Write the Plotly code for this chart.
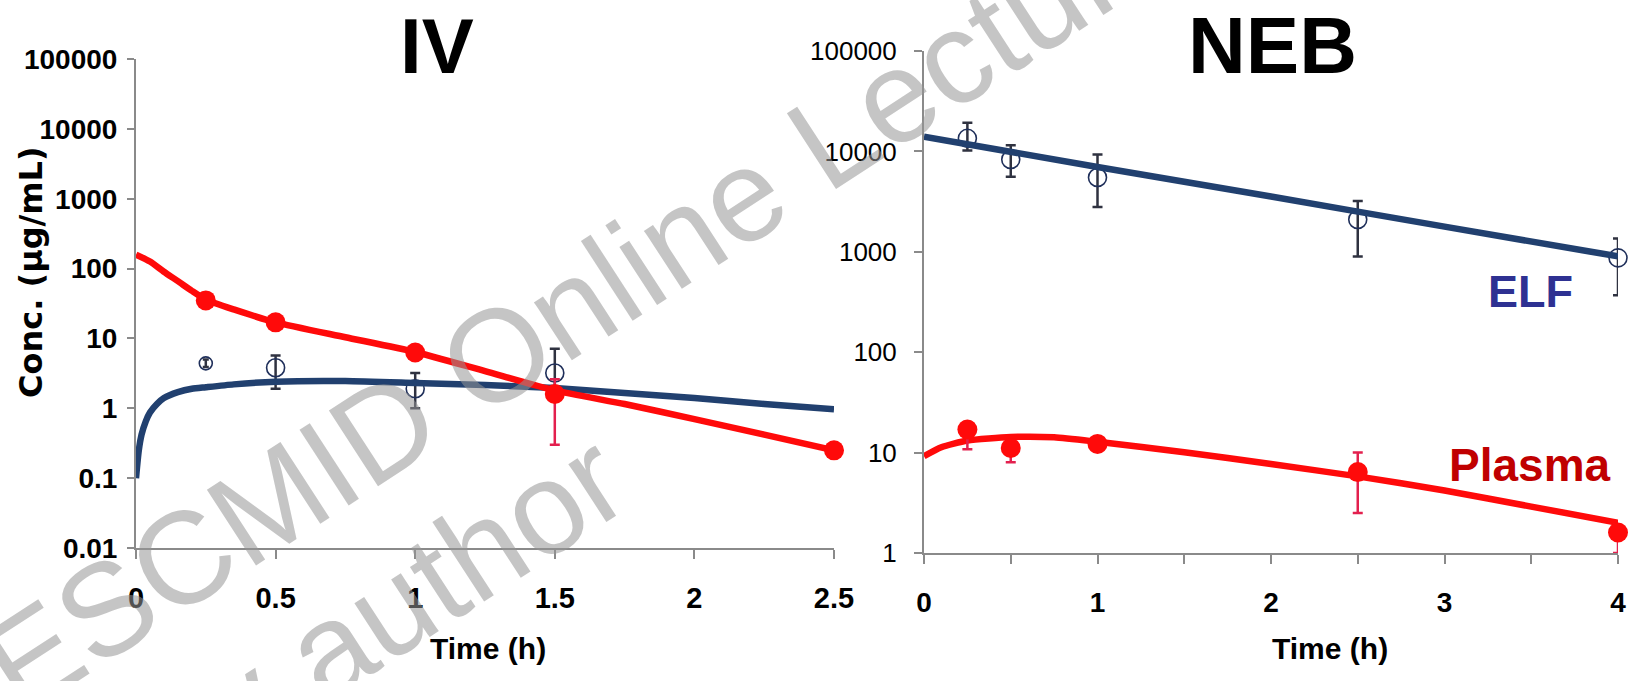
import plotly.graph_objects as go

# ---------------- DATA ----------------
# IV panel
iv_t_obs = [0.25, 0.5, 1.0, 1.5, 2.5]
iv_plasma_obs = [35, 17, 6.3, 1.6, 0.25]
iv_plasma_err_plus = [0, 0, 0, 1.0, 0]
iv_plasma_err_minus = [0, 0, 0, 1.3, 0]

iv_elf_t_obs = [0.5, 1.0, 1.5]
iv_elf_obs = [3.8, 1.9, 3.2]
iv_elf_err_plus = [1.9, 1.3, 3.9]
iv_elf_err_minus = [1.9, 0.9, 1.5]
iv_elf_t_early = [0.25]
iv_elf_early = [4.4]
iv_elf_early_plus = [0.6]
iv_elf_early_minus = [0.5]

iv_t_fit_plasma = [0, 0.05, 0.1, 0.15, 0.2, 0.25, 0.35, 0.5, 0.75, 1.0, 1.25, 1.5, 1.75, 2.0, 2.25, 2.5]
iv_plasma_fit = [158, 126, 90, 66, 48, 36, 26, 17, 10.4, 6.4, 3.4, 1.8, 1.15, 0.7, 0.42, 0.25]

iv_t_fit_elf = [0, 0.01, 0.02, 0.035, 0.05, 0.075, 0.1, 0.15, 0.2, 0.25, 0.35, 0.5, 0.75, 1.0, 1.25, 1.5, 1.75, 2.0, 2.25, 2.5]
iv_elf_fit = [0.1, 0.25, 0.42, 0.65, 0.87, 1.15, 1.4, 1.7, 1.9, 2.0, 2.2, 2.4, 2.45, 2.3, 2.15, 1.95, 1.65, 1.4, 1.15, 0.97]

# NEB panel
neb_t_obs = [0.25, 0.5, 1.0, 2.5, 4.0]
neb_elf_obs = [13500, 8300, 5500, 2100, 870]
neb_elf_err_plus = [5800, 3200, 3800, 1100, 490]
neb_elf_err_minus = [3300, 2700, 2700, 1200, 500]

neb_plasma_obs = [17, 11.1, 12.2, 6.4, 1.6]
neb_plasma_err_plus = [3, 1.5, 1.5, 3.6, 0.3]
neb_plasma_err_minus = [6.2, 3.1, 1.0, 3.9, 0.6]

neb_t_fit_elf = [0, 1, 2, 3, 4]
neb_elf_fit = [14000, 7000, 3550, 1780, 900]

neb_t_fit_plasma = [0, 0.1, 0.25, 0.5, 0.75, 1.0, 1.5, 2.0, 2.5, 3.0, 3.5, 4.0]
neb_plasma_fit = [9.2, 11.3, 13.2, 14.3, 14.2, 12.8, 10.1, 7.7, 5.8, 4.2, 2.9, 2.0]

iv_y_ticks = [0.01, 0.1, 1, 10, 100, 1000, 10000, 100000]
iv_y_labels = ["0.01", "0.1", "1", "10", "100", "1000", "10000", "100000"]
iv_x_ticks = [0, 0.5, 1, 1.5, 2, 2.5]
iv_x_labels = ["0", "0.5", "1", "1.5", "2", "2.5"]
neb_y_ticks = [1, 10, 100, 1000, 10000, 100000]
neb_y_labels = ["1", "10", "100", "1000", "10000", "100000"]
neb_x_ticks = [0, 0.5, 1, 1.5, 2, 2.5, 3, 3.5, 4]
neb_x_labels = ["0", "", "1", "", "2", "", "3", "", "4"]

# ---------------- STYLE ----------------
W, H = 1639, 681
def px(x):
    return x / W
def py(y):
    return 1 - y / H

RED = "#FF0A0A"
BLUE = "#21406F"
NAVY = "#1F2F5A"
NAVY_ERR = "#2F3240"
RED_ERR = "#E3204E"
AX = "#8A8A8A"
BOLD = "Liberation Sans, Arial, sans-serif"

fig = go.Figure()

def line(x, y, color, xa, ya):
    fig.add_trace(go.Scatter(x=x, y=y, mode="lines", line=dict(color=color, width=6.5, shape="spline", smoothing=0.6),
                             xaxis=xa, yaxis=ya, cliponaxis=False, hoverinfo="skip"))

def filled(x, y, ep, em, xa, ya):
    fig.add_trace(go.Scatter(x=x, y=y, mode="markers",
                             marker=dict(color=RED, size=20, line=dict(width=0)),
                             error_y=dict(type="data", array=ep, arrayminus=em, color=RED_ERR, thickness=2.5, width=5),
                             xaxis=xa, yaxis=ya, cliponaxis=False))

def hollow(x, y, ep, em, xa, ya, size=18, cap=5):
    fig.add_trace(go.Scatter(x=x, y=y, mode="markers",
                             marker=dict(color=NAVY, size=size, symbol="circle-open", line=dict(width=1.6)),
                             error_y=dict(type="data", array=ep, arrayminus=em, color=NAVY_ERR, thickness=2.5, width=cap),
                             xaxis=xa, yaxis=ya, cliponaxis=False))

# IV panel
hollow(iv_elf_t_obs, iv_elf_obs, iv_elf_err_plus, iv_elf_err_minus, "x", "y")
hollow(iv_elf_t_early, iv_elf_early, iv_elf_early_plus, iv_elf_early_minus, "x", "y", size=13, cap=3)
line(iv_t_fit_elf, iv_elf_fit, BLUE, "x", "y")
line(iv_t_fit_plasma, iv_plasma_fit, RED, "x", "y")
filled(iv_t_obs, iv_plasma_obs, iv_plasma_err_plus, iv_plasma_err_minus, "x", "y")

# NEB panel
hollow(neb_t_obs, neb_elf_obs, neb_elf_err_plus, neb_elf_err_minus, "x2", "y2")
line(neb_t_fit_elf, neb_elf_fit, BLUE, "x2", "y2")
line(neb_t_fit_plasma, neb_plasma_fit, RED, "x2", "y2")
filled(neb_t_obs, neb_plasma_obs, neb_plasma_err_plus, neb_plasma_err_minus, "x2", "y2")

axis_common = dict(showline=True, linecolor=AX, linewidth=2, ticks="outside", tickcolor=AX, tickwidth=2,
                   showgrid=False, zeroline=False, mirror=False, automargin=False)

fig.update_layout(
    width=W, height=H, margin=dict(l=0, r=0, t=0, b=0, pad=0),
    paper_bgcolor="white", plot_bgcolor="rgba(0,0,0,0)", showlegend=False,
    xaxis=dict(domain=[px(136), px(834)], range=[0, 2.5], tickvals=iv_x_ticks, ticktext=iv_x_labels,
               ticklen=9, anchor="y", ticklabelstandoff=14,
               tickfont=dict(family=BOLD, size=29, color="black", weight="bold"), **axis_common),
    yaxis=dict(domain=[py(548), py(59)], type="log", range=[-2, 5], tickvals=iv_y_ticks, ticktext=iv_y_labels,
               ticklen=7, anchor="x", ticklabelstandoff=4,
               tickfont=dict(family=BOLD, size=28, color="black", weight="bold"), **axis_common),
    xaxis2=dict(domain=[px(924), px(1618)], range=[0, 4], tickvals=neb_x_ticks, ticktext=neb_x_labels,
                ticklen=9, anchor="y2", ticklabelstandoff=14,
                tickfont=dict(family=BOLD, size=28, color="black", weight="bold"), **axis_common),
    yaxis2=dict(domain=[py(553), py(51)], type="log", range=[0, 5], tickvals=neb_y_ticks, ticktext=neb_y_labels,
                ticklen=8, anchor="x2", ticklabelstandoff=12,
                tickfont=dict(family=BOLD, size=26, color="black"), **axis_common),
)

def ann(text, x, y, size, color="black", family=BOLD, angle=0, weight="bold"):
    fig.add_annotation(text=text, x=px(x), y=py(y), xref="paper", yref="paper", showarrow=False,
                       xanchor="center", yanchor="middle", textangle=angle,
                       font=dict(family=family, size=size, color=color, weight=weight))

ann("IV", 437, 46, 78)
ann("NEB", 1272, 46, 80)
ann("Conc. (µg/mL)", 31, 272, 32, family="DejaVu Sans, sans-serif", angle=-90)
ann("Time (h)", 488, 648, 30)
ann("Time (h)", 1330, 648, 30)
ann("ELF", 1530, 291, 45, color="#2E3192")
ann("Plasma", 1530, 465, 46, color="#C00000")

# watermark
ann("ESCMID Online Lecture Library", 765, 180, 131, color="rgba(150,150,150,0.55)",
    family="Liberation Sans, Arial, sans-serif", angle=-33, weight="normal")
ann("© by author", 325, 650, 131, color="rgba(150,150,150,0.55)",
    family="Liberation Sans, Arial, sans-serif", angle=-33, weight="normal")

fig.write_html("out.html", post_script="document.body.style.margin='0';document.body.style.overflow='hidden';")
